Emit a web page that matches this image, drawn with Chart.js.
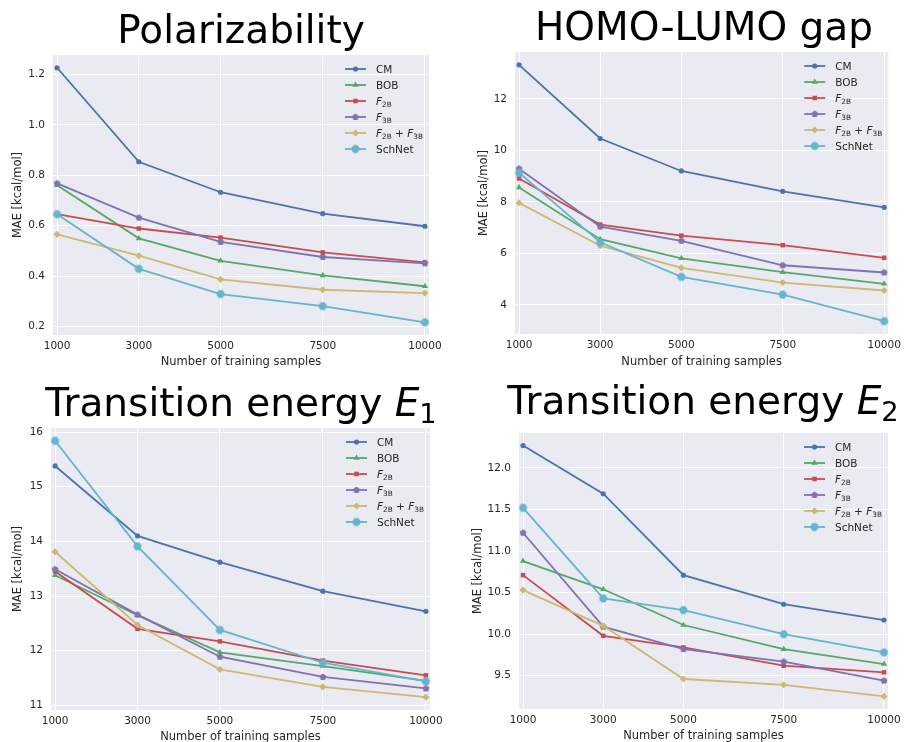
<!DOCTYPE html>
<html>
<head>
<meta charset="utf-8">
<script src="https://cdn.jsdelivr.net/npm/chart.js@4.4.0/dist/chart.umd.min.js"></script>
<style>
  body { margin: 0; width: 906px; height: 742px; overflow: hidden; background: #fff; position: relative; font-family: "DejaVu Sans", sans-serif; }
  canvas { position: absolute; }
  .title { position: absolute; z-index: 2; width: 500px; font-size: 39px; line-height: 39px; color: #000; text-align: center; white-space: nowrap; }
  .title sub { font-size: 0.7em; vertical-align: -0.26em; line-height: 0; }
</style>
</head>
<body>
<!-- titles centred over each plot area: left = centre - 250 -->
<div class="title" style="left:-9px;top:10px">Polarizability</div>
<div class="title" style="left:454px;top:7px">HOMO-LUMO gap</div>
<div class="title" style="left:-9px;top:383px">Transition energy <i>E</i><sub>1</sub></div>
<div class="title" style="left:453px;top:381px">Transition energy <i>E</i><sub>2</sub></div>
<canvas id="pol" width="453" height="371" style="left:0;top:0"></canvas>
<canvas id="gap" width="453" height="371" style="left:453px;top:0"></canvas>
<canvas id="e1" width="453" height="400" style="left:0;top:371px"></canvas>
<canvas id="e2" width="453" height="400" style="left:453px;top:371px"></canvas>
<script>
const FONT = '"DejaVu Sans", sans-serif';

const trainingSizes = [1000, 3000, 5000, 7500, 10000];
const methods = ['CM', 'BOB', 'F_2B', 'F_3B', 'F_2B + F_3B', 'SchNet'];

// Polarizability
const polCM = [1.227, 0.854, 0.733, 0.648, 0.598];
const polBOB = [0.761, 0.550, 0.461, 0.403, 0.360];
const polF2B = [0.646, 0.589, 0.553, 0.494, 0.455];
const polF3B = [0.768, 0.632, 0.536, 0.476, 0.451];
const polF2BF3B = [0.566, 0.481, 0.387, 0.346, 0.333];
const polSchNet = [0.646, 0.429, 0.329, 0.281, 0.217];
const polTicks = [0.2, 0.4, 0.6, 0.8, 1.0, 1.2];

// HOMO-LUMO gap
const gapCM = [13.32, 10.46, 9.20, 8.41, 7.79];
const gapBOB = [8.56, 6.55, 5.81, 5.27, 4.82];
const gapF2B = [8.91, 7.12, 6.69, 6.32, 5.83];
const gapF3B = [9.29, 7.04, 6.49, 5.54, 5.26];
const gapF2BF3B = [7.96, 6.30, 5.44, 4.87, 4.56];
const gapSchNet = [9.13, 6.43, 5.09, 4.40, 3.37];
const gapTicks = [4, 6, 8, 10, 12];

// Transition energy E1
const e1CM = [15.38, 14.10, 13.62, 13.09, 12.72];
const e1BOB = [13.38, 12.65, 11.97, 11.72, 11.45];
const e1F2B = [13.45, 12.40, 12.17, 11.82, 11.55];
const e1F3B = [13.49, 12.66, 11.89, 11.52, 11.31];
const e1F2BF3B = [13.81, 12.47, 11.66, 11.34, 11.15];
const e1SchNet = [15.84, 13.91, 12.38, 11.78, 11.44];
const e1Ticks = [11, 12, 13, 14, 15, 16];

// Transition energy E2
const e2CM = [12.27, 11.69, 10.71, 10.36, 10.17];
const e2BOB = [10.88, 10.54, 10.11, 9.82, 9.64];
const e2F2B = [10.71, 9.98, 9.84, 9.62, 9.54];
const e2F3B = [11.22, 10.09, 9.82, 9.67, 9.44];
const e2F2BF3B = [10.53, 10.10, 9.46, 9.39, 9.25];
const e2SchNet = [11.52, 10.43, 10.29, 10.00, 9.78];
const e2Ticks = [9.5, 10.0, 10.5, 11.0, 11.5, 12.0];

function polygonMarker(sides, r, color, rot) {
  const s = Math.ceil(r * 2) + 2;
  const c = document.createElement('canvas');
  c.width = s; c.height = s;
  const g = c.getContext('2d');
  g.fillStyle = color;
  g.beginPath();
  for (let i = 0; i < sides; i++) {
    const a = rot + i * 2 * Math.PI / sides;
    const px = s / 2 + r * Math.sin(a), py = s / 2 - r * Math.cos(a);
    if (i) g.lineTo(px, py); else g.moveTo(px, py);
  }
  g.closePath();
  g.fill();
  return c;
}

const styles = [
  { color: '#4C72B0', point: 'circle', radius: 2.6 },
  { color: '#55A868', point: 'triangle', radius: 3.6 },
  { color: '#C44E52', point: 'rect', radius: 3.2 },
  { color: '#8172B2', point: polygonMarker(5, 3.6, '#8172B2', 0), radius: 3.6 },
  { color: '#CCB974', point: 'rectRot', radius: 3.6 },
  { color: '#64B5CD', point: polygonMarker(8, 4.2, '#64B5CD', Math.PI / 8), radius: 4.2 },
];

function drawMathLabel(ctx, text, x, y) {
  const size = 10.5, base = y + size * 0.36;
  ctx.fillStyle = '#262626';
  ctx.textBaseline = 'alphabetic';
  ctx.textAlign = 'left';
  const put = (s, font, dy) => { ctx.font = font; ctx.fillText(s, x, base + dy); x += ctx.measureText(s).width; };
  const re = /([A-Za-z])_([0-9A-Za-z]+)/g;
  let last = 0, m;
  while ((m = re.exec(text))) {
    if (m.index > last) put(text.slice(last, m.index), size + 'px ' + FONT, 0);
    put(m[1], 'italic ' + size + 'px ' + FONT, 0);
    put(m[2], (size * 0.7) + 'px ' + FONT, size * 0.22);
    last = re.lastIndex;
  }
  if (last < text.length) put(text.slice(last), size + 'px ' + FONT, 0);
}

const backdrop = {
  id: 'backdrop',
  beforeDraw(chart) {
    const { ctx, chartArea: a } = chart;
    ctx.save();
    ctx.fillStyle = '#EAEAF2';
    ctx.fillRect(a.left, a.top, a.right - a.left, a.bottom - a.top);
    ctx.restore();
  }
};

const innerLegend = {
  id: 'innerLegend',
  afterDraw(chart) {
    const { ctx, chartArea: a } = chart;
    const x0 = a.right - 84;
    ctx.save();
    chart.data.datasets.forEach((ds, i) => {
      const y = a.top + 14 + 16 * i;
      ctx.strokeStyle = ds.borderColor;
      ctx.lineWidth = ds.borderWidth;
      ctx.beginPath();
      ctx.moveTo(x0, y);
      ctx.lineTo(x0 + 21, y);
      ctx.stroke();
      ctx.fillStyle = ds.backgroundColor;
      Chart.helpers.drawPoint(ctx, { pointStyle: ds.pointStyle, radius: ds.pointRadius, borderWidth: 0, rotation: 0 }, x0 + 10.5, y);
      drawMathLabel(ctx, ds.label, x0 + 31, y);
    });
    ctx.restore();
  }
};

function makePanel(id, series, yTicks, decimals, g) {
  const all = series.flat();
  const lo = Math.min(...all), hi = Math.max(...all), pad = (hi - lo) * 0.05;
  new Chart(document.getElementById(id), {
    type: 'line',
    data: {
      datasets: series.map((vals, i) => ({
        label: methods[i],
        data: trainingSizes.map((x, j) => ({ x: x, y: vals[j] })),
        borderColor: styles[i].color,
        backgroundColor: styles[i].color,
        borderWidth: 1.8,
        pointStyle: styles[i].point,
        pointRadius: styles[i].radius,
        pointBorderWidth: 0,
        order: series.length - i,
        tension: 0,
        clip: false,
      })),
    },
    options: {
      responsive: false,
      animation: false,
      events: [],
      layout: { padding: { left: 0, top: g.top, right: g.right, bottom: 0 } },
      plugins: { legend: { display: false }, tooltip: { enabled: false } },
      scales: {
        x: {
          type: 'linear',
          min: 900,
          max: 10100,
          afterBuildTicks: s => { s.ticks = trainingSizes.map(v => ({ value: v })); },
          afterFit: s => { s.height = g.xh; },
          grid: { color: '#ffffff', lineWidth: 1, drawTicks: false },
          border: { display: false },
          ticks: { padding: 5, color: '#262626', font: { family: FONT, size: 10.5 }, callback: v => String(v), maxRotation: 0 },
          title: { display: true, text: 'Number of training samples', color: '#262626', font: { family: FONT, size: 11.5 }, padding: { top: 0, bottom: g.xtb } },
        },
        y: {
          min: lo - pad,
          max: hi + pad,
          afterBuildTicks: s => { s.ticks = yTicks.map(v => ({ value: v })); },
          afterFit: s => { s.width = g.left; },
          grid: { color: '#ffffff', lineWidth: 1, drawTicks: false },
          border: { display: false },
          ticks: { padding: 8, color: '#262626', font: { family: FONT, size: 10.5 }, callback: v => Number(v).toFixed(decimals) },
          title: { display: true, text: 'MAE [kcal/mol]', color: '#262626', font: { family: FONT, size: 11.5 }, padding: { top: g.ytp, bottom: 0 } },
        },
      },
    },
    plugins: [backdrop, innerLegend],
  });
}

makePanel('pol', [polCM, polBOB, polF2B, polF3B, polF2BF3B, polSchNet], polTicks, 1,
  { left: 53, right: 24, top: 55, xh: 36, xtb: 2, ytp: 11 });
makePanel('gap', [gapCM, gapBOB, gapF2B, gapF3B, gapF2BF3B, gapSchNet], gapTicks, 0,
  { left: 62, right: 12, top: 52, xh: 37, xtb: 2, ytp: 24 });
makePanel('e1', [e1CM, e1BOB, e1F2B, e1F3B, e1F2BF3B, e1SchNet], e1Ticks, 0,
  { left: 51, right: 23, top: 57, xh: 61, xtb: 27, ytp: 11 });
makePanel('e2', [e2CM, e2BOB, e2F2B, e2F3B, e2F2BF3B, e2SchNet], e2Ticks, 1,
  { left: 66, right: 18, top: 62, xh: 62, xtb: 28, ytp: 18 });
</script>
</body>
</html>
